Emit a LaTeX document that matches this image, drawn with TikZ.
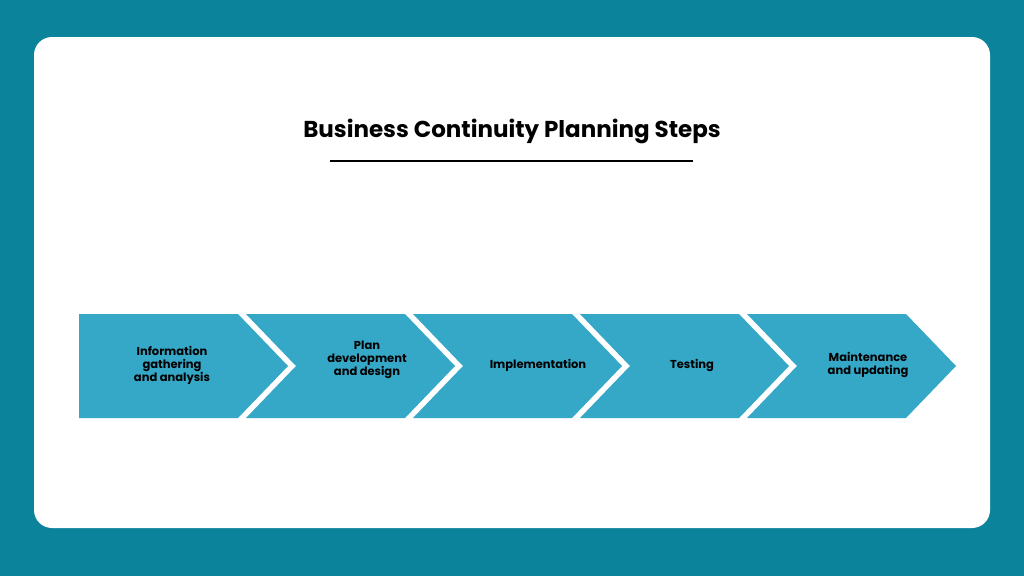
\documentclass[tikz,border=0pt]{standalone}
\usepackage{fontspec}
\setmainfont{Poppins}
\definecolor{bgteal}{HTML}{0B839A}
\definecolor{stepblue}{HTML}{35A8C8}
\tikzset{
  chevron/.style={fill=stepblue, draw=none},
  steptext/.style={font=\bfseries\fontsize{11.5}{13}\selectfont, align=center, text=black}
}
\begin{document}
\begin{tikzpicture}[x=1pt,y=-1pt]
 % background and card
 \fill[bgteal] (0,0) rectangle (1024,576);
 \useasboundingbox (0,0) rectangle (1024,576);
 \fill[white, rounded corners=18pt] (34,37) rectangle (990,528);

 % title
 \node[font=\bfseries\fontsize{23}{28}\selectfont] (title) at (512,131) {Business Continuity Planning Steps};
 \draw[line width=2pt] (330,161) -- (693,161);

 % chevrons
 \fill[chevron] (79,314) -- (238,314) -- (288,366) -- (238,418) -- (79,418) -- cycle;
 \foreach \i in {1,...,4}{
  \pgfmathsetmacro{\s}{79+167*\i}
  \fill[chevron] (\s,314) -- (\s+159,314) -- (\s+209,366) -- (\s+159,418) -- (\s,418) -- (\s+50,366) -- cycle;
 }

 % labels
 \node[steptext] (info)  at (172,365) {Information\\gathering\\and analysis};
 \node[steptext] (plan)  at (367,360) {Plan\\development\\and design};
 \node[steptext] (impl)  at (538,365) {Implementation};
 \node[steptext] (test)  at (692,365) {Testing};
 \node[steptext] (maint) at (868,365) {Maintenance\\and updating};
\end{tikzpicture}
\end{document}
